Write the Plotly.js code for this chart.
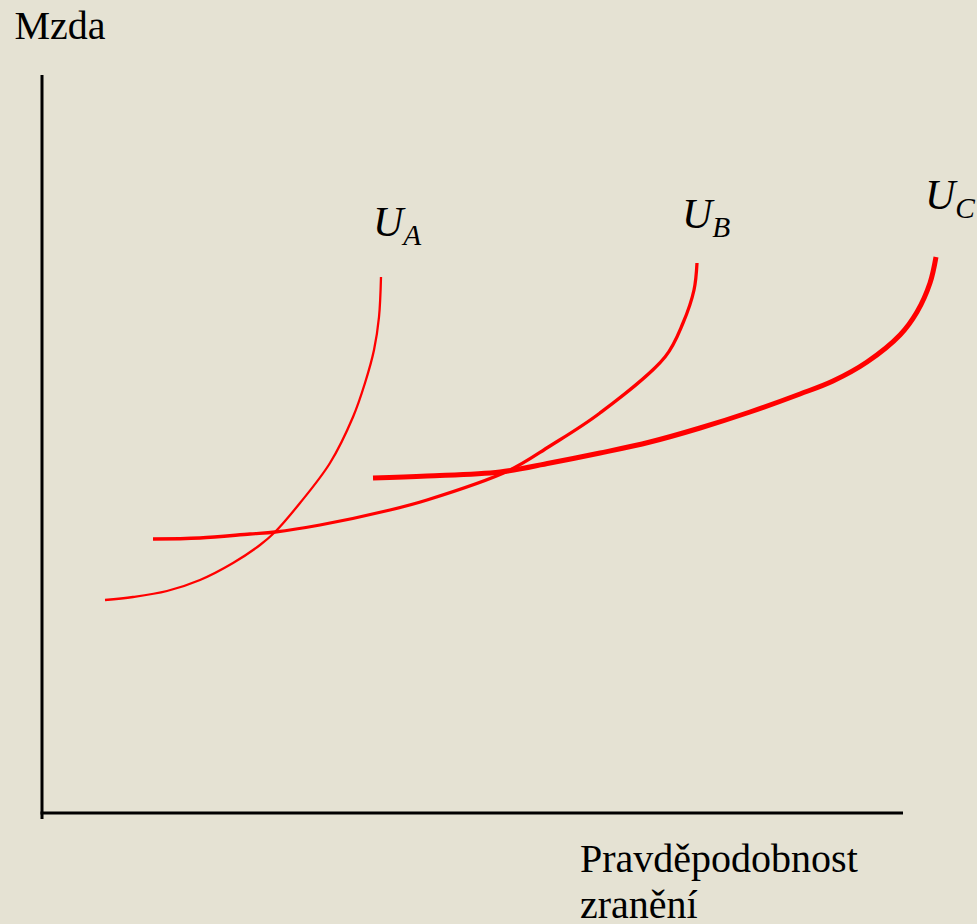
<!DOCTYPE html>
<html>
<head>
<meta charset="utf-8">
<script src="https://cdn.plot.ly/plotly-3.0.1.min.js"></script>
<style>
html,body{margin:0;padding:0;background:#E5E2D3;}
#chart{width:977px;height:924px;}
#ylab{position:absolute;left:14.5px;top:5.5px;font-family:'Liberation Serif';font-size:40px;line-height:40px;color:#000000;z-index:5;white-space:nowrap;}
</style>
</head>
<body>
<div id="chart"></div>
<div id="ylab"></div>
<script>
// Values (origin of the axes = 0,0)
const uaX = [63, 91, 125, 158, 191, 218, 233, 258, 288, 311, 323, 332, 337, 339];
const uaY = [213, 216, 222, 233, 250, 268, 281, 310, 350, 396, 430, 463, 496, 536];
const ubX = [111, 158, 208, 233, 278, 348, 385, 466, 508, 558, 623, 641, 652, 655];
const ubY = [274, 275, 279, 281, 288, 303, 313, 342, 367, 400, 456, 490, 523, 550];
const ucX = [331, 385, 458, 508, 558, 608, 658, 708, 758, 791, 825, 858, 875, 888, 894];
const ucY = [335, 337, 341, 350, 360, 371, 385, 401, 419, 432, 451, 478, 501, 530, 556];
const curveNames = ["U<sub>A</sub>", "U<sub>B</sub>", "U<sub>C</sub>"];
const yLabel = "Mzda";
const xLabelLines = ["Pravděpodobnost", "zranění"];

document.getElementById('ylab').textContent = yLabel;

const serif = 'Liberation Serif';
const red = '#FF0000';

const traces = [
  {x: uaX, y: uaY, mode: 'lines', line: {color: red, width: 2.3, shape: 'spline'}, hoverinfo: 'skip'},
  {x: ubX, y: ubY, mode: 'lines', line: {color: red, width: 3.3, shape: 'spline'}, hoverinfo: 'skip'},
  {x: ucX, y: ucY, mode: 'lines', line: {color: red, width: 5, shape: 'spline'}, hoverinfo: 'skip'}
];

const uFont = {family: serif, size: 42, color: '#000000'};
const labFont = {family: serif, size: 40, color: '#000000'};

const layout = {
  width: 977, height: 924,
  margin: {l: 0, r: 0, t: 0, b: 0},
  paper_bgcolor: '#E5E2D3',
  plot_bgcolor: '#E5E2D3',
  showlegend: false,
  xaxis: {range: [-42, 935], visible: false},
  yaxis: {range: [-111, 813], visible: false},
  shapes: [
    {type: 'line', x0: 0, x1: 0, y0: -6, y1: 738, line: {color: '#000000', width: 3}},
    {type: 'line', x0: -1.5, x1: 861, y0: 0, y1: 0, line: {color: '#000000', width: 3}}
  ],
  annotations: [
    {x: 536, y: -21.4, xanchor: 'left', yanchor: 'top', text: xLabelLines[0], showarrow: false, font: labFont},
    {x: 536, y: -67.4, xanchor: 'left', yanchor: 'top', text: xLabelLines[1], showarrow: false, font: labFont},
    {x: 329, y: 616.3, xanchor: 'left', yanchor: 'top', text: '<i>' + curveNames[0] + '</i>', showarrow: false, font: uFont},
    {x: 638, y: 624.3, xanchor: 'left', yanchor: 'top', text: '<i>' + curveNames[1] + '</i>', showarrow: false, font: uFont},
    {x: 881, y: 643.3, xanchor: 'left', yanchor: 'top', text: '<i>' + curveNames[2] + '</i>', showarrow: false, font: uFont}
  ]
};

Plotly.newPlot('chart', traces, layout, {displayModeBar: false});
</script>
</body>
</html>
